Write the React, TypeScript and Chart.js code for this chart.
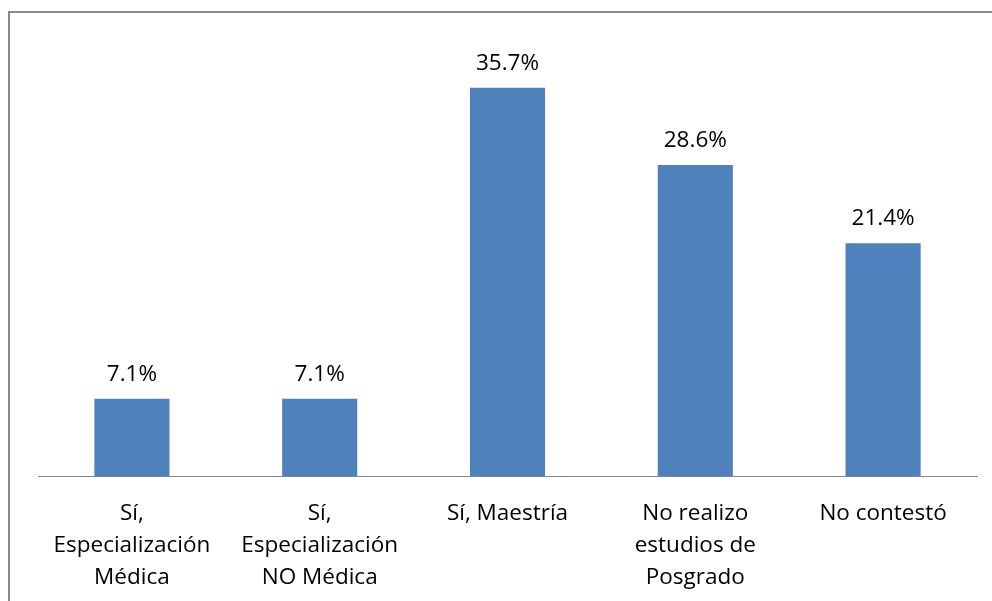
import React, { useEffect, useRef } from "react";
import { Chart, registerables } from "chart.js";

Chart.register(...registerables);

const categories: string[][] = [
  ["Sí,", "Especialización", "Médica"],
  ["Sí,", "Especialización", "NO Médica"],
  ["Sí, Maestría"],
  ["No realizo", "estudios de", "Posgrado"],
  ["No contestó"],
];
const values: number[] = [7.1, 7.1, 35.7, 28.6, 21.4];
const yMax = 40;

const FONT = "'Open Sans', sans-serif";
const FS = 22.5;

const valueLabels = {
  id: "valueLabels",
  afterDatasetsDraw(chart: any) {
    const ctx = chart.ctx;
    const meta = chart.getDatasetMeta(0);
    ctx.save();
    ctx.font = `${FS}px ${FONT}`;
    ctx.fillStyle = "#000";
    ctx.textAlign = "center";
    ctx.textBaseline = "alphabetic";
    meta.data.forEach((bar: any, i: number) => {
      ctx.fillText(values[i].toFixed(1) + "%", bar.x, bar.y - 18);
    });
    ctx.restore();
  },
};

export default function App() {
  const ref = useRef<HTMLCanvasElement>(null);
  useEffect(() => {
    if (!ref.current) return;
    const chart = new Chart(ref.current, {
      type: "bar",
      data: {
        labels: categories,
        datasets: [
          {
            data: values,
            backgroundColor: "#4F81BD",
            borderWidth: 0,
            barPercentage: 0.4,
            categoryPercentage: 1,
          },
        ],
      },
      options: {
        responsive: false,
        animation: false,
        layout: { padding: { left: 38, right: 15, top: 41, bottom: 0 } },
        plugins: { legend: { display: false }, tooltip: { enabled: false } },
        scales: {
          x: {
            grid: { display: false },
            border: { display: true, color: "#868686", width: 1 },
            ticks: {
              color: "#000",
              font: { family: FONT, size: FS, lineHeight: 1.42 },
              padding: 14,
              maxRotation: 0,
              autoSkip: false,
            },
            afterFit(scale: any) {
              scale.height = 125;
            },
          },
          y: {
            display: false,
            min: 0,
            max: yMax,
          },
        },
      },
      plugins: [valueLabels],
    });
    return () => chart.destroy();
  }, []);
  return (
    <div>
      <canvas
        ref={ref}
        width={992}
        height={601}
        style={{ position: "fixed", left: 0, top: 0, width: 992, height: 601 }}
      />
      <div
        style={{
          position: "fixed",
          left: 8,
          top: 11,
          width: 1000,
          height: 700,
          borderTop: "2px solid #8a8a8a",
          borderLeft: "2px solid #8a8a8a",
          pointerEvents: "none",
        }}
      />
    </div>
  );
}
